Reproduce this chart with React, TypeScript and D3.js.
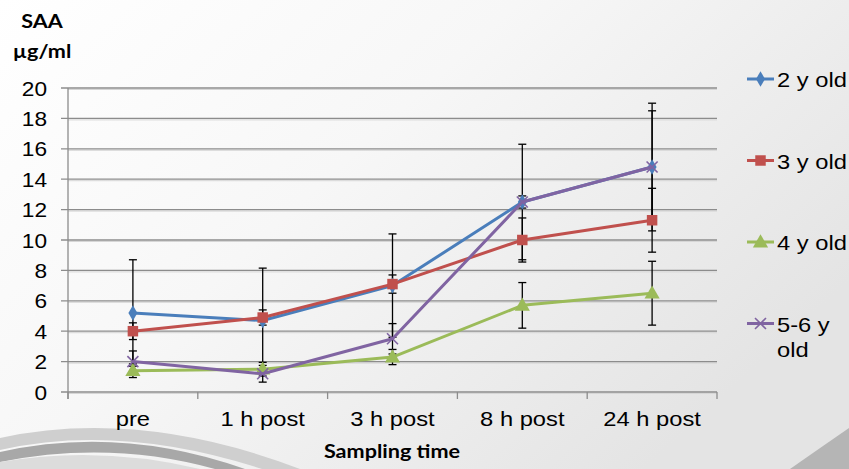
import React from "react";
import * as d3 from "d3";

const categories = ["pre", "1 h post", "3 h post", "8 h post", "24 h post"];
const yTicks = [0, 2, 4, 6, 8, 10, 12, 14, 16, 18, 20];

const seriesNames = ["2 y old", "3 y old", "4 y old", "5-6 y old"];
const seriesColors = ["#4A7EBB", "#C0504D", "#9BBB59", "#8064A2"];

const values2y = [5.2, 4.7, 7.0, 12.5, 14.8];
const values3y = [4.0, 4.9, 7.1, 10.0, 11.3];
const values4y = [1.4, 1.5, 2.3, 5.7, 6.5];
const values56y = [2.0, 1.2, 3.5, 12.5, 14.8];

const err2y = [3.5, 3.45, 3.4, 3.8, 4.2];
const err3y = [0.55, 0.5, 0.6, 1.45, 2.1];
const err4y = [0.45, 0.45, 0.5, 1.5, 2.1];
const err56y = [0.7, 0.55, 1.0, 0.4, 3.7];

const allValues = [values2y, values3y, values4y, values56y];
const allErrors = [err2y, err3y, err4y, err56y];
const markerTypes = ["diamond", "square", "triangle", "cross"];

const W = 849;
const H = 469;
const left = 68;
const right = 717;
const top = 88;
const bottom = 392;

const FONT = "Liberation Sans, Arial, sans-serif";
const TITLE_FONT = "Lato, sans-serif";

const x = d3.scaleBand<string>().domain(categories).range([left, right]).padding(0);
const cx = (c: string) => (x(c) as number) + x.bandwidth() / 2;
const y = d3.scaleLinear().domain([0, 20]).range([bottom, top]);

// text drawn a little wider than the font, like the stretched original
const Wide = ({ px, py, sx, children, ...rest }: any) => (
  <g transform={`translate(${px},${py}) scale(${sx},1)`}>
    <text x={0} y={0} {...rest}>
      {children}
    </text>
  </g>
);

const Marker = ({ type, color, px, py }: { type: string; color: string; px: number; py: number }) => {
  if (type === "diamond") {
    const p = d3.symbol().type(d3.symbolDiamond).size(70)();
    return <path d={p || ""} transform={`translate(${px},${py})`} fill={color} />;
  }
  if (type === "square") {
    const p = d3.symbol().type(d3.symbolSquare).size(110)();
    return <path d={p || ""} transform={`translate(${px},${py})`} fill={color} />;
  }
  if (type === "triangle") {
    const p = d3.symbol().type(d3.symbolTriangle).size(100)();
    return <path d={p || ""} transform={`translate(${px},${py + 1})`} fill={color} />;
  }
  const s = 5.5;
  return (
    <g transform={`translate(${px},${py})`} stroke={color} strokeWidth={1.6}>
      <line x1={-s} y1={-s} x2={s} y2={s} />
      <line x1={-s} y1={s} x2={s} y2={-s} />
    </g>
  );
};

const App = () => {
  const line = d3
    .line<number>()
    .x((_, i) => cx(categories[i]))
    .y((d) => y(d));

  return (
    <svg width={W} height={H} style={{ position: "absolute", left: 0, top: 0 }}>
      <defs>
        <linearGradient id="bg" x1="0" y1="0" x2="1" y2="0.6">
          <stop offset="0" stopColor="#ffffff" />
          <stop offset="0.45" stopColor="#f7f7f7" />
          <stop offset="1" stopColor="#e4e4e4" />
        </linearGradient>
      </defs>
      <rect width={W} height={H} fill="url(#bg)" />

      {/* decorative swooshes */}
      <path d="M0,452 Q120,425 245,469 L215,469 Q110,440 0,462 Z" fill="#a8a8a8" />
      <path d="M0,438 Q140,408 300,469 L262,469 Q120,423 0,450 Z" fill="#cfcfcf" />
      <path d="M0,462 Q100,445 200,469 L0,469 Z" fill="#dcdcdc" />
      <path d="M790,469 Q820,448 849,428 L849,469 Z" fill="#b5b5b5" />

      {/* gridlines */}
      {yTicks.map((t) => (
        <g key={t}>
          <line x1={left} x2={right} y1={y(t) + 1.5} y2={y(t) + 1.5} stroke="#d6d6d6" strokeWidth={1} />
          <line x1={left - 7} x2={right} y1={y(t)} y2={y(t)} stroke="#8c8c8c" strokeWidth={1.3} />
          <Wide px={47} py={y(t)} sx={1.08} dy="0.36em" textAnchor="end" fontFamily={FONT} fontSize={21} fill="#000">
            {t}
          </Wide>
        </g>
      ))}

      {/* axes */}
      <line x1={left} x2={left} y1={top} y2={bottom + 7} stroke="#8c8c8c" strokeWidth={1.3} />
      {[...categories.map((c) => x(c) as number), right].map((v, i) => (
        <line key={i} x1={v} x2={v} y1={bottom} y2={bottom + 7} stroke="#8c8c8c" strokeWidth={1.3} />
      ))}
      {categories.map((c) => (
        <Wide key={c} px={cx(c)} py={426} sx={1.13} textAnchor="middle" fontFamily={FONT} fontSize={21} fill="#000">
          {c}
        </Wide>
      ))}

      {/* error bars */}
      {allValues.map((vals, si) =>
        vals.map((v, i) => {
          const e = allErrors[si][i];
          const px = cx(categories[i]);
          return (
            <g key={`${si}-${i}`} stroke="#000" strokeWidth={1.3}>
              <line x1={px} x2={px} y1={y(v + e)} y2={y(v - e)} />
              <line x1={px - 4} x2={px + 4} y1={y(v + e)} y2={y(v + e)} />
              <line x1={px - 4} x2={px + 4} y1={y(v - e)} y2={y(v - e)} />
            </g>
          );
        })
      )}

      {/* series */}
      {allValues.map((vals, si) => (
        <g key={si}>
          <path d={line(vals) || ""} fill="none" stroke={seriesColors[si]} strokeWidth={3} strokeLinejoin="round" />
          {vals.map((v, i) => (
            <Marker key={i} type={markerTypes[si]} color={seriesColors[si]} px={cx(categories[i])} py={y(v)} />
          ))}
        </g>
      ))}

      {/* legend */}
      {seriesNames.map((name, si) => {
        const ly = 79 + si * 81.5;
        const words = si === 3 ? ["5-6 y", "old"] : [name];
        return (
          <g key={name}>
            <line x1={747} x2={774} y1={ly} y2={ly} stroke={seriesColors[si]} strokeWidth={3} />
            <Marker type={markerTypes[si]} color={seriesColors[si]} px={760.5} py={ly} />
            {words.map((w, wi) => (
              <Wide key={wi} px={777} py={ly + 8 + wi * 25} sx={1.13} fontFamily={FONT} fontSize={21} fill="#000">
                {w}
              </Wide>
            ))}
          </g>
        );
      })}

      {/* titles */}
      <Wide px={42} py={28} sx={1.2} textAnchor="middle" fontFamily={TITLE_FONT} fontWeight="bold" fontSize={18} fill="#000">
        SAA
      </Wide>
      <Wide px={42} py={58} sx={1.2} textAnchor="middle" fontFamily={TITLE_FONT} fontWeight="bold" fontSize={18} fill="#000">
        µg/ml
      </Wide>
      <Wide px={392} py={458} sx={1.2} textAnchor="middle" fontFamily={TITLE_FONT} fontWeight="bold" fontSize={18} fill="#000">
        Sampling time
      </Wide>
    </svg>
  );
};

export default App;
